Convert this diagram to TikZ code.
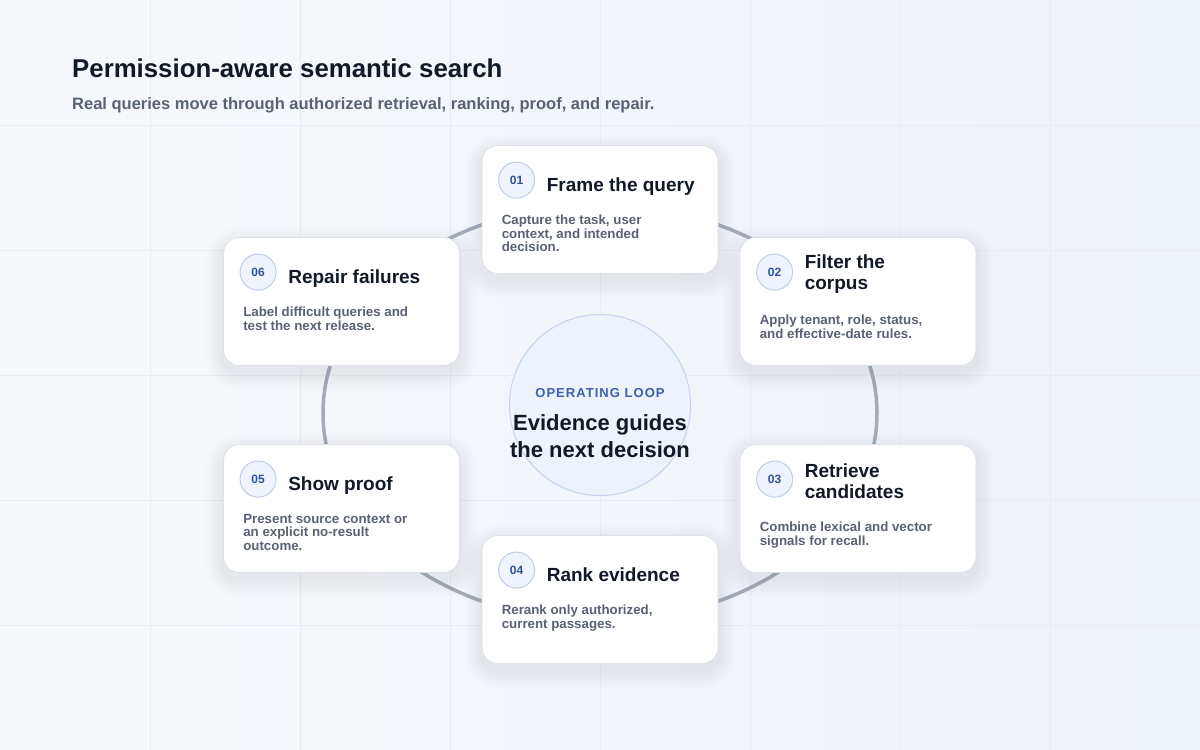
\documentclass[tikz,border=0pt]{standalone}
\usepackage{fontspec}
\setmainfont{Liberation Sans}
\usetikzlibrary{calc}
\definecolor{bgA}{HTML}{F6F8FB}
\definecolor{bgB}{HTML}{EEF2F9}
\definecolor{gridc}{HTML}{E8ECF2}
\definecolor{ink}{HTML}{111827}
\definecolor{muted}{HTML}{596273}
\definecolor{ringc}{HTML}{A5ABB6}
\definecolor{cardline}{HTML}{DDE2EA}
\definecolor{badgefill}{HTML}{EEF3FC}
\definecolor{badgeline}{HTML}{BFCDE6}
\definecolor{badgetext}{HTML}{2F529C}
\definecolor{hubfill}{HTML}{EDF3FC}
\definecolor{hubline}{HTML}{C3D3EE}
\definecolor{hubtext}{HTML}{3A5FAE}
\definecolor{shadowc}{HTML}{1E2A4A}
\tikzset{
  cardbox/.style={draw=cardline, line width=0.8pt, fill=white, rounded corners=16pt,
    minimum width=236pt, minimum height=128pt, inner sep=0pt},
  badge/.style={circle, draw=badgeline, line width=1pt, fill=badgefill, minimum size=36pt,
    inner sep=0pt, text=badgetext, font=\bfseries\fontsize{12}{12}\selectfont},
  cardtitle/.style={inner sep=0pt, text=ink, align=left,
    font=\bfseries\fontsize{19}{21}\selectfont},
  carddesc/.style={inner sep=0pt, text=muted, align=left,
    font=\bfseries\fontsize{13.3}{13.5}\selectfont},
}
% #1 name, #2 center x, #3 center y, #4 number
\newcommand\cardshape[4]{%
  \foreach \k in {1,...,8}{
    \fill[shadowc, opacity=0.008, rounded corners=16pt+\k*2.2pt]
      (#2-118-\k*2.2, #3-64-\k*2.2+7) rectangle (#2+118+\k*2.2, #3+64+\k*2.2+7);
  }
  \node[cardbox] (#1) at (#2,#3) {};
  \node[badge] (#1b) at ($(#1.north west)+(35,35)$) {#4};
}
\begin{document}
\begin{tikzpicture}[x=1pt,y=-1pt]
\useasboundingbox (0,0) rectangle (1200,750);
\shade[left color=bgA, right color=bgB] (0,0) rectangle (1200,750);
\foreach \gx in {150,300,...,1050} \draw[gridc, line width=1pt] (\gx,0) -- (\gx,750);
\foreach \gy in {125,250,...,625} \draw[gridc, line width=1pt] (0,\gy) -- (1200,\gy);

% header
\node[anchor=base west, inner sep=0pt, text=ink, font=\bfseries\fontsize{25.8}{28}\selectfont]
  (head) at (72,77) {Permission-aware semantic search};
\node[anchor=base west, inner sep=0pt, text=muted, font=\bfseries\fontsize{16.5}{18}\selectfont]
  (sub) at (72,109.5) {Real queries move through authorized retrieval, ranking, proof, and repair.};

% ring
\draw[ringc, line width=3.5pt] (600,413) ellipse [x radius=277, y radius=208];

% hub
\node[circle, draw=hubline, line width=1pt, fill=hubfill, minimum size=181pt, inner sep=0pt]
  (hub) at (600,405) {};
\node[inner sep=0pt, text=hubtext, font=\bfseries\fontsize{13}{13}\selectfont\addfontfeatures{LetterSpace=8}]
  (hubl) at (600,393) {OPERATING LOOP};
\node[inner sep=0pt, text=ink, align=center, font=\bfseries\fontsize{22}{26.5}\selectfont]
  (hubt) at (600,436) {Evidence guides\\the next decision};

% cards
\cardshape{c1}{600}{209.5}{01}
\node[cardtitle, anchor=base west] (c1t) at ($(c1.north west)+(65,46.5)$) {Frame the query};
\node[carddesc, anchor=north west] (c1d) at ($(c1.north west)+(20,70)$) {Capture the task, user\\context, and intended\\decision.};

\cardshape{c2}{858}{301.5}{02}
\node[cardtitle, anchor=west] (c2t) at ($(c2.north west)+(65,37)$) {Filter the\\corpus};
\node[carddesc, anchor=north west] (c2d) at ($(c2.north west)+(20,78)$) {Apply tenant, role, status,\\and effective-date rules.};

\cardshape{c3}{858}{508.5}{03}
\node[cardtitle, anchor=west] (c3t) at ($(c3.north west)+(65,37)$) {Retrieve\\candidates};
\node[carddesc, anchor=north west] (c3d) at ($(c3.north west)+(20,78)$) {Combine lexical and vector\\signals for recall.};

\cardshape{c4}{600}{599.5}{04}
\node[cardtitle, anchor=base west] (c4t) at ($(c4.north west)+(65,46.5)$) {Rank evidence};
\node[carddesc, anchor=north west] (c4d) at ($(c4.north west)+(20,70)$) {Rerank only authorized,\\current passages.};

\cardshape{c5}{341.5}{508.5}{05}
\node[cardtitle, anchor=base west] (c5t) at ($(c5.north west)+(65,46.5)$) {Show proof};
\node[carddesc, anchor=north west] (c5d) at ($(c5.north west)+(20,70)$) {Present source context or\\an explicit no-result\\outcome.};

\cardshape{c6}{341.5}{301.5}{06}
\node[cardtitle, anchor=base west] (c6t) at ($(c6.north west)+(65,46.5)$) {Repair failures};
\node[carddesc, anchor=north west] (c6d) at ($(c6.north west)+(20,70)$) {Label difficult queries and\\test the next release.};
\end{tikzpicture}
\end{document}
